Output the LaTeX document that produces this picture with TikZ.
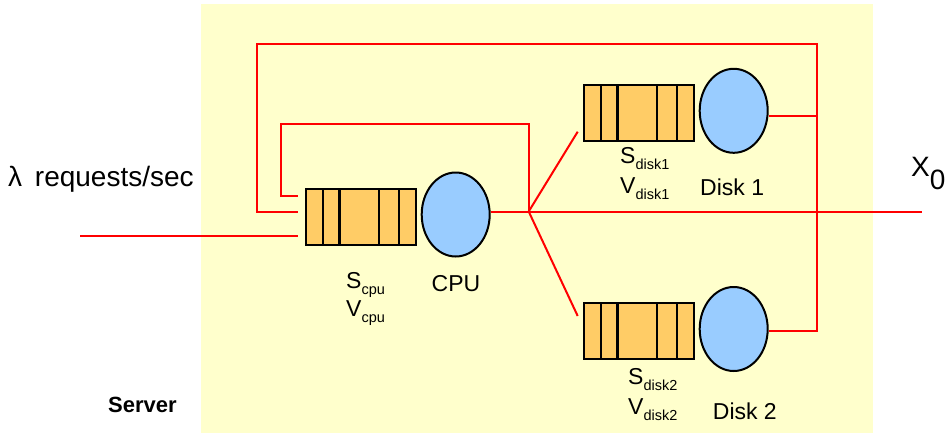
\documentclass[tikz,border=0pt]{standalone}
\usepackage{fontspec}
\setmainfont{Liberation Sans}
\usetikzlibrary{calc,shapes.geometric}
\definecolor{bgyellow}{HTML}{FFFFCC}
\definecolor{qfill}{HTML}{FFCC66}
\definecolor{sfill}{HTML}{99CCFF}
\newcommand{\qlbl}[2]{#1\raisebox{-6pt}{\fontsize{14.5}{15}\selectfont #2}}
\begin{document}
\begin{tikzpicture}[x=1pt,y=-1pt,
  queue/.style={draw, line width=2.2pt, fill=qfill, minimum width=110pt,
    minimum height=56pt, inner sep=0pt},
  divider/.style={line width=2.2pt},
  server/.style={ellipse, draw, line width=2pt, fill=sfill, minimum width=68pt,
    minimum height=84pt, inner sep=0pt},
  wire/.style={red, line width=2pt},
  txt/.style={anchor=base west, inner sep=0pt, font=\fontsize{23}{27}\selectfont}]
\useasboundingbox (0,0) rectangle (946,434);
\fill[bgyellow] (201,4) rectangle (872.7,433.3);

% queues and servers
\node[queue]  (cpuq) at (360.8,216.7) {};
\node[server] (cpu)  at (455.7,214.5) {};
\node[queue]  (d1q)  at (638.8,112.8) {};
\node[server] (d1)   at (733.7,110.8) {};
\node[queue]  (d2q)  at (638.8,330.7) {};
\node[server] (d2)   at (733.7,329) {};
\foreach \q in {cpuq,d1q,d2q}
  \foreach \f in {0.16,0.31,0.665,0.84}
    \draw[divider] ($(\q.south west)!\f!(\q.south east)$) -- ($(\q.north west)!\f!(\q.north east)$);

% connector coordinates
\coordinate (j)     at (528.7,211.5);
\coordinate (inS)   at (80,235.7);
\coordinate (inE)   at (297.7,235.7);
\coordinate (ilTop) at (281,124);
\coordinate (ilEnd) at (297.7,195.7);
\coordinate (olTop) at (256.7,43.7);
\coordinate (olEnd) at (297.7,211.5);
\coordinate (rv)    at (816.7,43.7);
\coordinate (d1in)  at (577.7,131.7);
\coordinate (d2in)  at (577.7,316);
\coordinate (out)   at (921.7,211.5);

% red wires
\draw[wire] (inS) -- (inE);
\draw[wire] (cpu.east |- j) -- (j) -- (out);
\draw[wire] (j) -- (d1in);
\draw[wire] (j) -- (d2in);
\draw[wire] (j) |- (ilTop) |- (ilEnd);
\draw[wire] ([yshift=-2pt]d2.east) -| (rv) -| (olTop) |- (olEnd);
\draw[wire] ([yshift=-5pt]d1.east) -- ([yshift=-5pt]d1.east -| rv);

% labels
\node[txt] (lam) at (8,186.7) {\fontsize{28}{32}\selectfont λ\hspace{5pt} requests/sec};
\node[txt] (x0) at (911,176.7) {\fontsize{28}{32}\selectfont X\raisebox{-13pt}{0}};
\node[txt] (scpu) at (346,288) {\qlbl{S}{cpu}};
\node[txt] (vcpu) at (346,316) {\qlbl{V}{cpu}};
\node[txt, anchor=base] (cpul) at (456,291.7) {CPU};
\node[txt] (sd1) at (620,163.3) {\qlbl{S}{disk1}};
\node[txt] (vd1) at (620,193) {\qlbl{V}{disk1}};
\node[txt] (d1l) at (700,195) {Disk 1};
\node[txt] (sd2) at (628,384.3) {\qlbl{S}{disk2}};
\node[txt] (vd2) at (628,414) {\qlbl{V}{disk2}};
\node[txt] (d2l) at (712.7,419.3) {Disk 2};
\node[txt, font=\fontsize{22}{26}\selectfont\bfseries] (srv) at (108,412.7) {Server};
\end{tikzpicture}
\end{document}
